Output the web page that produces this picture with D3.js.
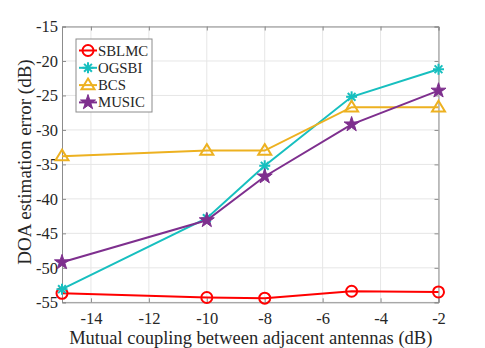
<!DOCTYPE html>
<meta charset="utf-8">
<style>
body { margin: 0; background: #fff; }
text { font-family: "Liberation Serif", "Times New Roman", serif; fill: #262626; }
.grid line { stroke: #e6e6e6; stroke-width: 1px; }
.line { fill: none; stroke-width: 2px; }
</style>
<svg width="485" height="348"></svg>
<script src="https://d3js.org/d3.v7.min.js"></script>
<script>

var xVals = [-15, -10, -8, -5, -2];
var xTicks = [-14, -12, -10, -8, -6, -4, -2];
var yTicks = [-55, -50, -45, -40, -35, -30, -25, -20, -15];

var sblmc = [-53.7, -54.3, -54.4, -53.4, -53.5];
var ogsbi = [-53.1, -42.8, -35.2, -25.2, -21.2];
var bcs   = [-33.8, -33.0, -33.0, -26.7, -26.7];
var music = [-49.2, -43.1, -36.75, -29.2, -24.3];

var series = [
  {name: "SBLMC", values: sblmc, color: "#ff0000", marker: "circle"},
  {name: "OGSBI", values: ogsbi, color: "#17bfbf", marker: "asterisk"},
  {name: "BCS",   values: bcs,   color: "#edb120", marker: "triangle"},
  {name: "MUSIC", values: music, color: "#7e2f8e", marker: "star"}
];

var svg = d3.select("svg"),
    pLeft = 62, pRight = 438.5, pTop = 26.5, pBottom = 302.3;

var x = d3.scaleLinear().domain([-15, -2]).range([pLeft, pRight]);
var y = d3.scaleLinear().domain([-55, -15]).range([pBottom, pTop]);
var fmt = d => String(d); // plain hyphen like the original

// grid
var grid = svg.append("g").attr("class", "grid");
grid.selectAll(".gx").data(xTicks).enter().append("line")
    .attr("x1", d => x(d)).attr("x2", d => x(d))
    .attr("y1", pTop).attr("y2", pBottom);
grid.selectAll(".gy").data(yTicks).enter().append("line")
    .attr("x1", pLeft).attr("x2", pRight)
    .attr("y1", d => y(d)).attr("y2", d => y(d));

// axes
var axisColor = "#8c8c8c";
svg.append("g").attr("class", "ax").attr("transform", "translate(0," + pBottom + ")")
    .call(d3.axisBottom(x).tickValues(xTicks).tickFormat(fmt).tickSize(-4).tickPadding(10));
svg.append("g").attr("class", "ax").attr("transform", "translate(" + pLeft + ",0)")
    .call(d3.axisLeft(y).tickValues(yTicks).tickFormat(fmt).tickSize(-4).tickPadding(4));
svg.append("g").attr("class", "ax").attr("transform", "translate(0," + pTop + ")")
    .call(d3.axisTop(x).tickValues(xTicks).tickSize(-4).tickFormat(""));
svg.append("g").attr("class", "ax").attr("transform", "translate(" + pRight + ",0)")
    .call(d3.axisRight(y).tickValues(yTicks).tickSize(-4).tickFormat(""));
svg.selectAll(".ax").attr("font-family", "Liberation Serif").attr("font-size", 16.5);
svg.selectAll(".domain, .tick line").attr("stroke", axisColor);
svg.selectAll(".tick text").attr("fill", "#262626");

// labels
svg.append("text").attr("x", (pLeft + pRight) / 2 + 0.5).attr("y", 344)
    .attr("text-anchor", "middle").style("font-size", "18.5px")
    .text("Mutual coupling between adjacent antennas (dB)");
svg.append("text").attr("transform", "translate(31,162) rotate(-90)")
    .attr("text-anchor", "middle").style("font-size", "19px")
    .text("DOA estimation error (dB)");

var line = d3.line().x((d, i) => x(xVals[i])).y(d => y(d));

function drawMarker(g, type, color, cx, cy) {
  if (type === "circle") {
    g.append("circle").attr("cx", cx).attr("cy", cy).attr("r", 5.5)
      .attr("fill", "none").attr("stroke", color).attr("stroke-width", 2);
  } else if (type === "asterisk") {
    var r = 5.5;
    [0, 45, 90, 135].forEach(function(a) {
      var rad = a * Math.PI / 180;
      g.append("line")
        .attr("x1", cx - r * Math.cos(rad)).attr("y1", cy - r * Math.sin(rad))
        .attr("x2", cx + r * Math.cos(rad)).attr("y2", cy + r * Math.sin(rad))
        .attr("stroke", color).attr("stroke-width", 2);
    });
  } else if (type === "triangle") {
    var s = 6.5;
    g.append("path")
      .attr("d", "M" + cx + "," + (cy - s) + "L" + (cx + s) + "," + (cy + s * 0.65) + "L" + (cx - s) + "," + (cy + s * 0.65) + "Z")
      .attr("fill", "none").attr("stroke", color).attr("stroke-width", 2);
  } else if (type === "star") {
    g.append("path").attr("transform", "translate(" + cx + "," + cy + ")")
      .attr("d", d3.symbol().type(d3.symbolStar).size(70)())
      .attr("fill", color).attr("stroke", color).attr("stroke-width", 1);
  }
}

series.forEach(function(s) {
  svg.append("path").datum(s.values).attr("class", "line")
    .attr("stroke", s.color).attr("d", line);
  var g = svg.append("g");
  s.values.forEach(function(v, i) { drawMarker(g, s.marker, s.color, x(xVals[i]), y(v)); });
});

// legend
var lg = svg.append("g");
lg.append("rect").attr("x", 76).attr("y", 39).attr("width", 76).attr("height", 73)
  .attr("fill", "#fff").attr("stroke", "#8c8c8c").attr("stroke-width", 1);
series.forEach(function(s, i) {
  var ly = 50.5 + i * 17.3;
  lg.append("line").attr("x1", 79).attr("x2", 97).attr("y1", ly).attr("y2", ly)
    .attr("stroke", s.color).attr("stroke-width", 2);
  drawMarker(lg, s.marker, s.color, 88, ly);
  lg.append("text").attr("x", 98).attr("y", ly + 5).style("font-size", "14.8px").text(s.name);
});

</script>
